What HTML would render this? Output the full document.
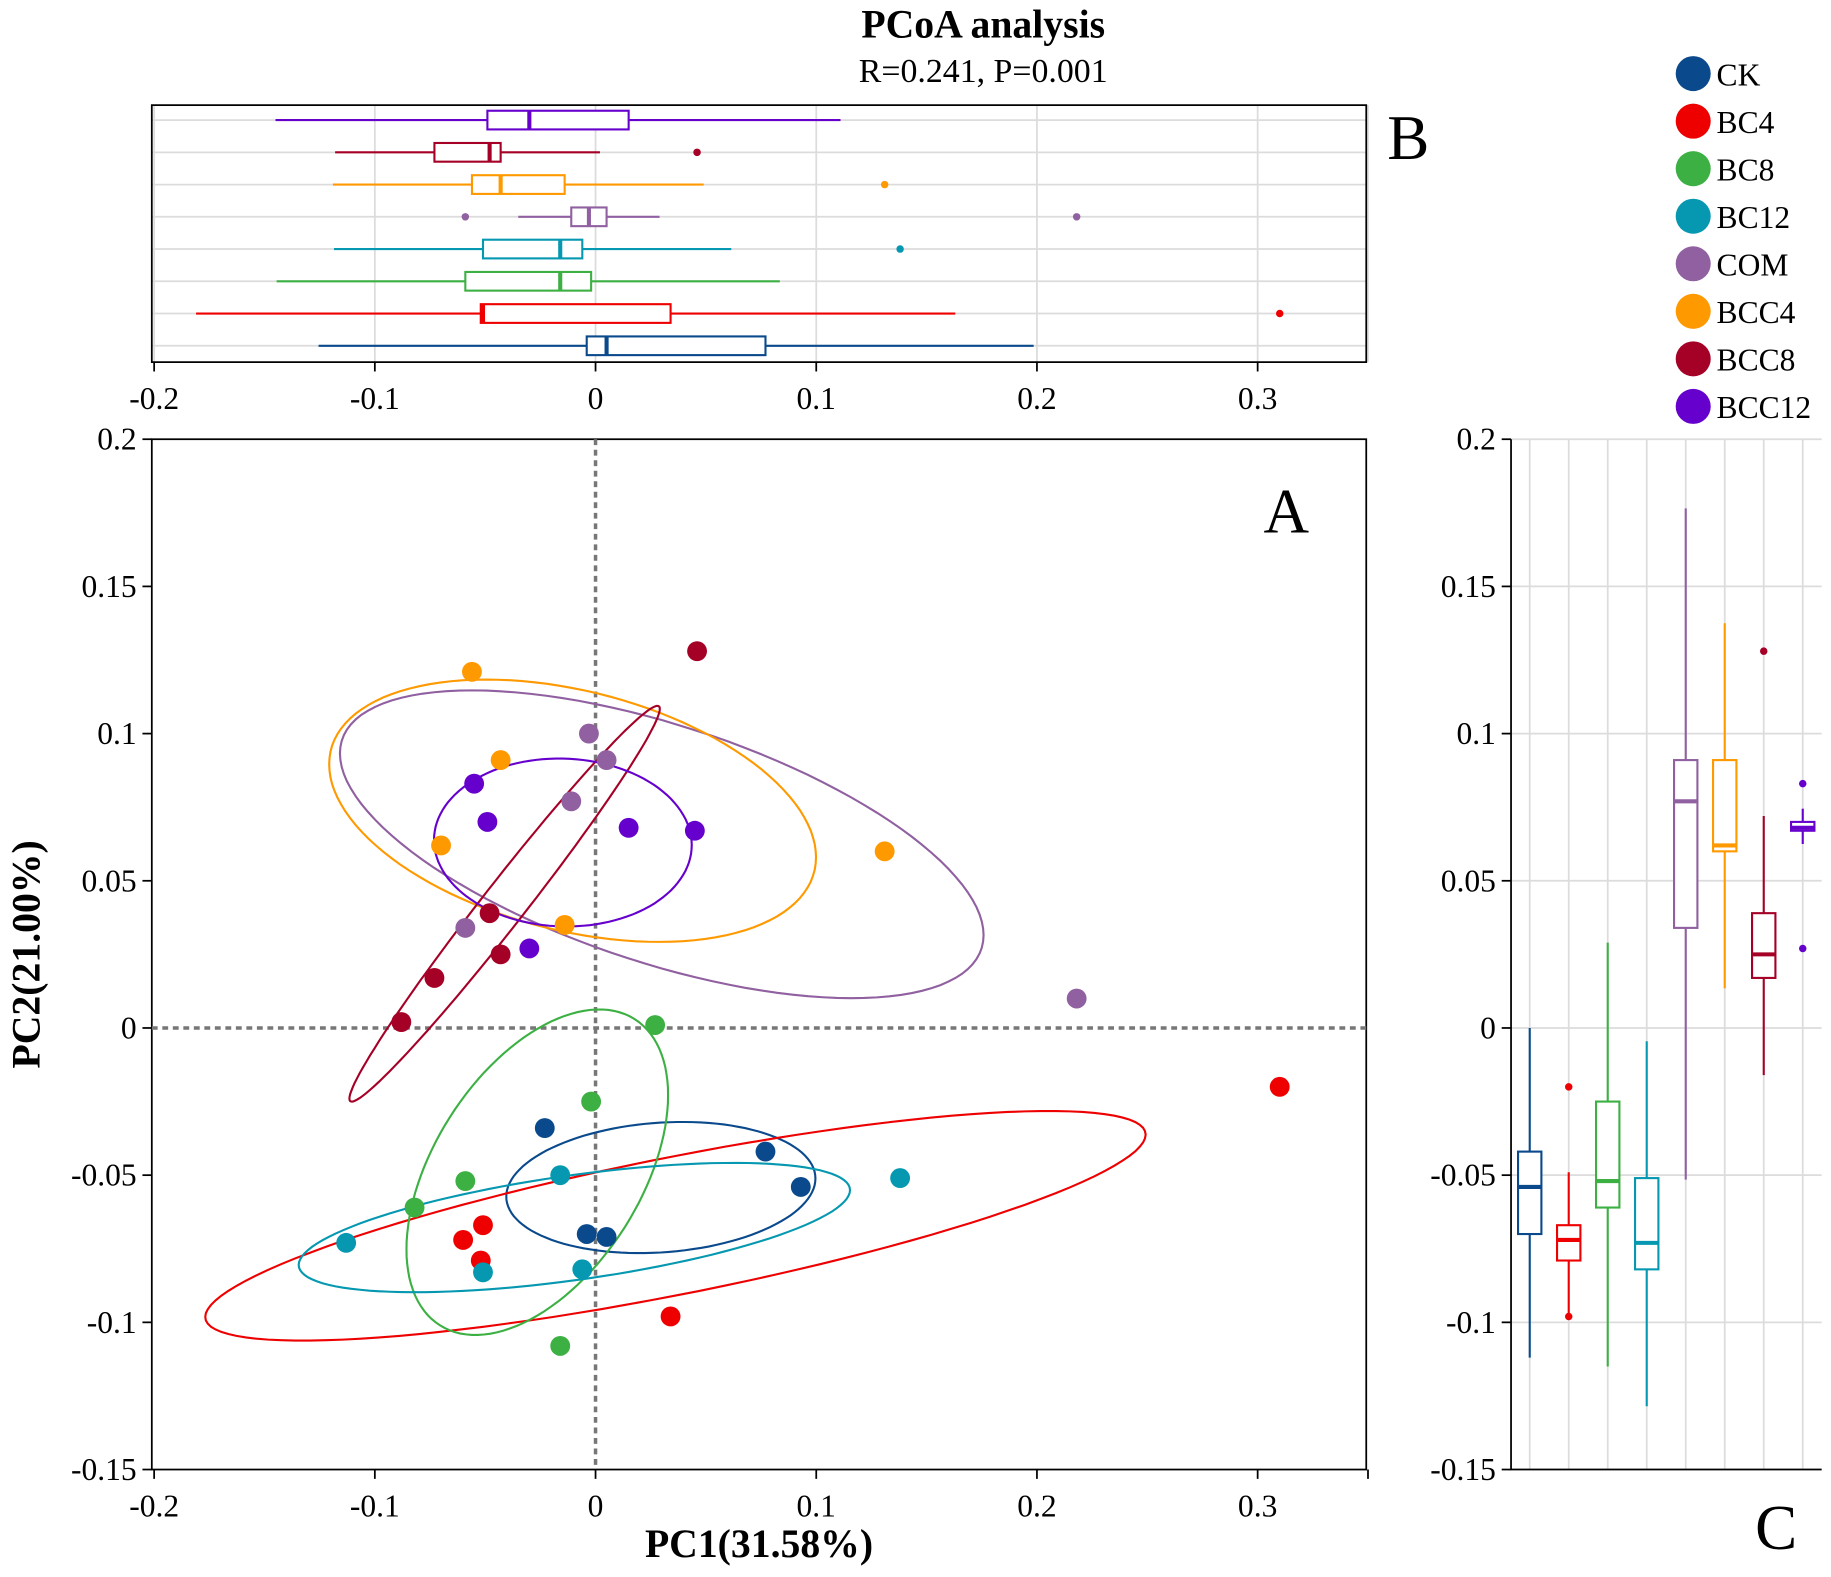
<!DOCTYPE html>
<html><head><meta charset="utf-8"><style>html,body{margin:0;padding:0;background:#fff}svg{display:block}text{font-family:"Liberation Serif",serif}</style></head>
<body>
<svg id="chart" width="1831" height="1577" viewBox="0 0 1568 1350" preserveAspectRatio="none" xmlns="http://www.w3.org/2000/svg">
<text x="842" y="32" font-size="34" font-weight="bold" text-anchor="middle">PCoA analysis</text>
<text x="842" y="70" font-size="29" text-anchor="middle">R=0.241, P=0.001</text>
<g id="gB"></g>
<g id="gA"></g>
<g id="gC"></g>
<g id="gL"></g>
</svg>
<script>
const groups = ["CK","BC4","BC8","BC12","COM","BCC4","BCC8","BCC12"];
const colors = ["#0a4a8c","#ee0000","#3cb043","#0598b0","#9060a0","#ff9900","#a50026","#6600cc"];
const pc1 = [
 [-0.023,0.077,0.093,-0.004,0.005],
 [0.310,-0.060,-0.051,-0.052,0.034],
 [0.027,-0.002,-0.059,-0.082,-0.016],
 [-0.016,0.138,-0.113,-0.051,-0.006],
 [-0.003,0.005,-0.011,-0.059,0.218],
 [-0.056,-0.043,-0.070,0.131,-0.014],
 [0.046,-0.048,-0.043,-0.073,-0.088],
 [-0.055,-0.049,0.015,0.045,-0.030]
];
const pc2 = [
 [-0.034,-0.042,-0.054,-0.070,-0.071],
 [-0.020,-0.072,-0.067,-0.079,-0.098],
 [0.001,-0.025,-0.052,-0.061,-0.108],
 [-0.050,-0.051,-0.073,-0.083,-0.082],
 [0.100,0.091,0.077,0.034,0.010],
 [0.121,0.091,0.062,0.060,0.035],
 [0.128,0.039,0.025,0.017,0.002],
 [0.083,0.070,0.068,0.067,0.027]
];
const xTicks = [-0.2,-0.1,0,0.1,0.2,0.3];
const xTickLabels = ["-0.2","-0.1","0","0.1","0.2","0.3"];
const yTicks = [0.2,0.15,0.1,0.05,0,-0.05,-0.1,-0.15];
const yTickLabels = ["0.2","0.15","0.1","0.05","0","-0.05","-0.1","-0.15"];

const NS="http://www.w3.org/2000/svg";
function mk(tag, attrs, parent){const e=document.createElementNS(NS,tag);for(const k in attrs)e.setAttribute(k,attrs[k]);parent.appendChild(e);return e;}
const xs = v => 510 + v*1890;
const ys = v => 880 - v*2520;
const AL=130, AR=1170, AT=376, AB=1258;
const BT=90, BB=310;
const CL=1294, CR=1560;
const rowY = i => 296 - i*27.6;          // panel B rows (CK bottom)
const colX = i => 1310 + i*33.4;         // panel C columns
function quant(a,p){const s=[...a].sort((x,y)=>x-y);const h=(s.length-1)*p;const l=Math.floor(h);return s[l]+(h-l)*((s[l+1]??s[l])-s[l]);}

// ---------- Panel B ----------
const gB=document.getElementById('gB');
xTicks.concat([0.35]).forEach(t=>{let e=mk('line',{x1:xs(t),x2:xs(t),y1:BT,y2:BB,stroke:'#dcdcdc','stroke-width':1.5},gB);});
groups.forEach((g,i)=>{let e=mk('line',{x1:AL,x2:AR,y1:rowY(i),y2:rowY(i),stroke:'#dcdcdc','stroke-width':1.5},gB);});
let fb=mk('rect',{x:AL,y:BT,width:AR-AL,height:BB-BT,fill:'none',stroke:'#000','stroke-width':1.5},gB);

xTicks.forEach((t,i)=>{
 let l=mk('line',{x1:xs(t),x2:xs(t),y1:BB,y2:BB+8,stroke:'#000','stroke-width':1.5},gB);
 
 let tx=mk('text',{x:xs(t),y:BB+40,'font-size':27,'text-anchor':'middle'},gB);tx.textContent=xTickLabels[i];
 
});
function boxH(vals,cy,col,g){
 const q1=quant(vals,0.25),md=quant(vals,0.5),q3=quant(vals,0.75),iqr=q3-q1;
 const lo=q1-1.5*iqr, hi=q3+1.5*iqr;
 let w=mk('line',{x1:xs(lo),x2:xs(hi),y1:cy,y2:cy,stroke:col,'stroke-width':1.8},g);
 let r=mk('rect',{x:xs(q1),y:cy-8,width:xs(q3)-xs(q1),height:16,fill:'#fff',stroke:col,'stroke-width':1.8},g);
 let m=mk('line',{x1:xs(md),x2:xs(md),y1:cy-8,y2:cy+8,stroke:col,'stroke-width':3.5},g);
 vals.forEach(v=>{if(v<lo-1e-9||v>hi+1e-9){let o=mk('circle',{cx:xs(v),cy:cy,r:3.2,fill:col},g);}});
}
groups.forEach((g,i)=>boxH(pc1[i],rowY(i),colors[i],gB));
let lb=mk('text',{x:1188,y:136,'font-size':54},gB);lb.textContent='B';

// ---------- Panel A ----------
const gA=document.getElementById('gA');
let fa=mk('rect',{x:AL,y:AT,width:AR-AL,height:AB-AT,fill:'none',stroke:'#000','stroke-width':1.5},gA);

let z1=mk('line',{x1:xs(0),x2:xs(0),y1:AT,y2:AB,stroke:'#777','stroke-width':3,'stroke-dasharray':'5,4'},gA);
let z2=mk('line',{x1:AL,x2:AR,y1:ys(0),y2:ys(0),stroke:'#777','stroke-width':3,'stroke-dasharray':'5,4'},gA);
xTicks.concat([0.35]).forEach((t,i)=>{
 let l=mk('line',{x1:xs(t),x2:xs(t),y1:AB,y2:AB+8,stroke:'#000','stroke-width':1.5},gA);
 if(i<xTickLabels.length){let tx=mk('text',{x:xs(t),y:AB+40,'font-size':27,'text-anchor':'middle'},gA);tx.textContent=xTickLabels[i];}
});
yTicks.forEach((t,i)=>{
 let l=mk('line',{x1:AL-8,x2:AL,y1:ys(t),y2:ys(t),stroke:'#000','stroke-width':1.5},gA);
 let tx=mk('text',{x:AL-13,y:ys(t)+9,'font-size':27,'text-anchor':'end'},gA);tx.textContent=yTickLabels[i];
});
let xt=mk('text',{x:650,y:1333,'font-size':34,'font-weight':'bold','text-anchor':'middle'},gA);xt.textContent='PC1(31.58%)';
let yt=mk('text',{x:34,y:817,'font-size':34,'font-weight':'bold','text-anchor':'middle',transform:'rotate(-90 34 817)'},gA);yt.textContent='PC2(21.00%)';
let la=mk('text',{x:1082,y:456,'font-size':54},gA);la.textContent='A';
const K=1.35;
groups.forEach((g,i)=>{
 const X=pc1[i],Y=pc2[i],n=X.length;
 const mx=X.reduce((a,b)=>a+b)/n,my=Y.reduce((a,b)=>a+b)/n;
 let sxx=0,syy=0,sxy=0;for(let j=0;j<n;j++){sxx+=(X[j]-mx)**2;syy+=(Y[j]-my)**2;sxy+=(X[j]-mx)*(Y[j]-my);}
 sxx/=n-1;syy/=n-1;sxy/=n-1;
 const a=Math.sqrt(sxx),c=sxy/a,d=Math.sqrt(Math.max(syy-c*c,0));
 let p='';for(let k=0;k<=120;k++){const t=k/120*2*Math.PI,u=Math.cos(t)*K,v=Math.sin(t)*K;p+=(k?'L':'M')+xs(mx+a*u).toFixed(1)+','+ys(my+c*u+d*v).toFixed(1);}
 let e=mk('path',{d:p+'Z',fill:'none',stroke:colors[i],'stroke-width':1.8},gA);
 
});
groups.forEach((g,i)=>{pc1[i].forEach((v,j)=>{
 let c=mk('circle',{cx:xs(v),cy:ys(pc2[i][j]),r:8.5,fill:colors[i]},gA);
 
});});

// ---------- Panel C ----------
const gC=document.getElementById('gC');
yTicks.forEach(t=>{let e=mk('line',{x1:CL,x2:CR,y1:ys(t),y2:ys(t),stroke:'#dcdcdc','stroke-width':1.5},gC);});
groups.forEach((g,i)=>{let e=mk('line',{x1:colX(i),x2:colX(i),y1:AT,y2:AB,stroke:'#dcdcdc','stroke-width':1.5},gC);});
let fc=mk('path',{d:`M${CL},${AT}V${AB}H${CR}`,fill:'none',stroke:'#000','stroke-width':1.5},gC);
yTicks.forEach((t,i)=>{
 let l=mk('line',{x1:CL-8,x2:CL,y1:ys(t),y2:ys(t),stroke:'#000','stroke-width':1.5},gC);
 let tx=mk('text',{x:CL-13,y:ys(t)+9,'font-size':27,'text-anchor':'end'},gC);tx.textContent=yTickLabels[i];
});
function boxV(vals,cx,col,g){
 const q1=quant(vals,0.25),md=quant(vals,0.5),q3=quant(vals,0.75),iqr=q3-q1;
 const lo=q1-1.5*iqr, hi=q3+1.5*iqr;
 let w=mk('line',{x1:cx,x2:cx,y1:ys(lo),y2:ys(hi),stroke:col,'stroke-width':1.8},g);
 let r=mk('rect',{x:cx-10,y:ys(q3),width:20,height:ys(q1)-ys(q3),fill:'#fff',stroke:col,'stroke-width':1.8},g);
 let m=mk('line',{x1:cx-10,x2:cx+10,y1:ys(md),y2:ys(md),stroke:col,'stroke-width':3.5},g);
 vals.forEach(v=>{if(v<lo-1e-9||v>hi+1e-9){let o=mk('circle',{cx:cx,cy:ys(v),r:3.2,fill:col},g);}});
}
groups.forEach((g,i)=>boxV(pc2[i],colX(i),colors[i],gC));
let lc=mk('text',{x:1503,y:1326,'font-size':54},gC);lc.textContent='C';

// ---------- Legend ----------
const gL=document.getElementById('gL');
groups.forEach((g,i)=>{
 const y=63+i*40.7;
 let c=mk('circle',{cx:1450,cy:y,r:15,fill:colors[i]},gL);
 let t=mk('text',{x:1470,y:y+10,'font-size':27},gL);t.textContent=g;
});
</script>
</body></html>
